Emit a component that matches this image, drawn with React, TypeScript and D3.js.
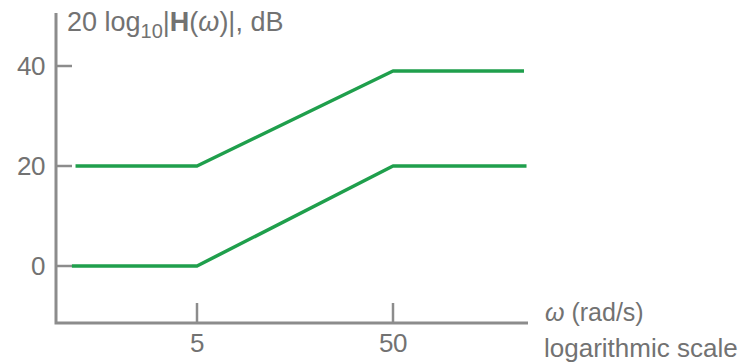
import * as d3 from 'd3'

// break-point asymptotes
const lowerOmega = [1.15, 5, 50, 240]
const lowerDb = [0, 0, 20, 20]
const upperOmega = [1.2, 5, 50, 233]
const upperDb = [20, 20, 39, 39]

const yTickValues = [0, 20, 40]
const xTickValues = [5, 50]

type Pt = [number, number]

export default function App() {
  const width = 749
  const height = 364

  // pixel anchors: log decade 5 -> 50, dB range 0 -> 40
  const x = d3.scaleLog().domain([5, 50]).range([197, 393])
  const y = d3.scaleLinear().domain([0, 40]).range([266, 66])

  const axisX = 56
  const axisY = 323
  const axisTop = 13
  const axisRight = 528

  const line = d3
    .line<Pt>()
    .x((d) => x(d[0]))
    .y((d) => y(d[1]))

  const lower: Pt[] = lowerOmega.map((w, i) => [w, lowerDb[i]])
  const upper: Pt[] = upperOmega.map((w, i) => [w, upperDb[i]])

  const gray = '#8c8c8c'
  const textGray = '#727272'
  const green = '#1f9f4c'

  return (
    <svg
      width={width}
      height={height}
      style={{ position: 'absolute', left: 0, top: 0 }}
      fontFamily="'Liberation Sans', Arial, sans-serif"
      fill={textGray}
    >
      <rect width={width} height={height} fill="#fff" />

      {/* axes */}
      <path
        d={`M${axisX},${axisTop}V${axisY}H${axisRight}`}
        stroke={gray}
        strokeWidth={3}
        fill="none"
      />
      {yTickValues.map((v) => (
        <g key={v} transform={`translate(${axisX}, ${y(v)})`}>
          <line x2={16} stroke={gray} strokeWidth={2.5} />
          <text x={-11} dy="0.36em" textAnchor="end" fontSize={26} letterSpacing={-0.5}>
            {v}
          </text>
        </g>
      ))}
      {xTickValues.map((v) => (
        <g key={v} transform={`translate(${x(v)}, ${axisY})`}>
          <line y2={-20} stroke={gray} strokeWidth={2.5} />
          <text y={29} textAnchor="middle" fontSize={26} letterSpacing={-0.5}>
            {v}
          </text>
        </g>
      ))}

      {/* y label */}
      <text x={67} y={31} fontSize={27}>
        20 log
        <tspan fontSize={20} dy={7}>
          10
        </tspan>
        <tspan dy={-7}>|</tspan>
        <tspan fontWeight="bold">H</tspan>
        <tspan>(</tspan>
        <tspan fontStyle="italic">ω</tspan>
        <tspan>)|, dB</tspan>
      </text>

      {/* x label */}
      <text x={545} y={321} fontSize={25}>
        <tspan fontStyle="italic">ω</tspan> (rad/s)
      </text>
      <text x={544} y={357} fontSize={26}>
        logarithmic scale
      </text>

      {/* asymptotes */}
      <g stroke={green} strokeWidth={3.5} fill="none" strokeLinejoin="round">
        <path d={line(upper)!} />
        <path d={line(lower)!} />
      </g>
    </svg>
  )
}
